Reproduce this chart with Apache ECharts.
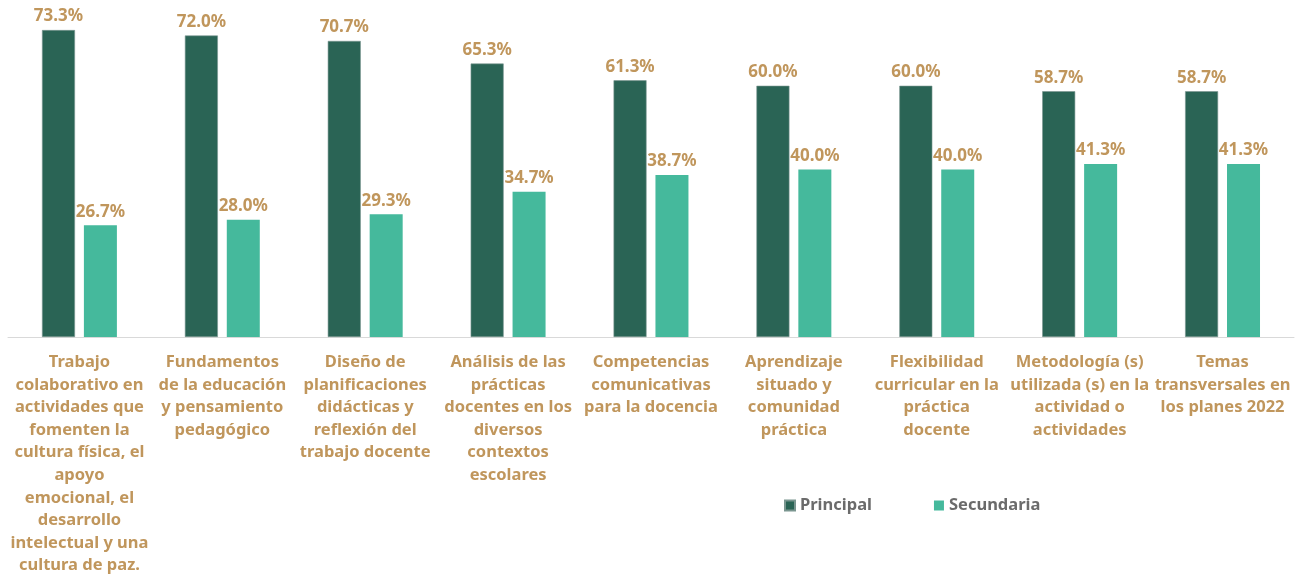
<!DOCTYPE html>
<html>
<head>
<meta charset="utf-8">
<script src="https://cdn.jsdelivr.net/npm/echarts@6/dist/echarts.min.js"></script>
<style>
  html, body { margin: 0; padding: 0; background: #fff; }
  #chart { width: 1304px; height: 577px; }
</style>
</head>
<body>
<div id="chart"></div>
<script>
// categorías con los saltos de línea tal como aparecen en la gráfica
const categories = [
  "Trabajo\ncolaborativo en\nactividades que\nfomenten la\ncultura física, el\napoyo\nemocional, el\ndesarrollo\nintelectual y una\ncultura de paz.",
  "Fundamentos\nde la educación\ny pensamiento\npedagógico",
  "Diseño de\nplanificaciones\ndidácticas y\nreflexión del\ntrabajo docente",
  "Análisis de las\nprácticas\ndocentes en los\ndiversos\ncontextos\nescolares",
  "Competencias\ncomunicativas\npara la docencia",
  "Aprendizaje\nsituado y\ncomunidad\npráctica",
  "Flexibilidad\ncurricular en la\npráctica\ndocente",
  "Metodología (s)\nutilizada (s) en la\nactividad o\nactividades",
  "Temas\ntransversales en\nlos planes 2022"
];
const principal = [73.3, 72.0, 70.7, 65.3, 61.3, 60.0, 60.0, 58.7, 58.7];
const secundaria = [26.7, 28.0, 29.3, 34.7, 38.7, 40.0, 40.0, 41.3, 41.3];

const FONT = "'Noto Sans', sans-serif";
const TAN = "#C0965C";

const chart = echarts.init(document.getElementById("chart"));

const valueLabel = {
  show: true,
  position: "top",
  distance: 5,
  color: TAN,
  fontFamily: FONT,
  fontWeight: "bold",
  fontSize: 17,
  formatter: p => p.value.toFixed(1) + "%"
};

chart.setOption({
  animation: false,
  grid: { left: 8, right: 10, top: 2, bottom: 238, containLabel: false },
  legend: {
    data: ["Principal", "Secundaria"],
    left: 779,
    top: 492,
    itemWidth: 10,
    itemHeight: 10,
    itemGap: 62,
    icon: "rect",
    textStyle: { color: "#6b6b6b", fontFamily: FONT, fontWeight: "bold", fontSize: 16.5 }
  },
  xAxis: {
    type: "category",
    data: categories,
    axisLine: { lineStyle: { color: "#d9d9d9", width: 1 } },
    axisTick: { show: false },
    axisLabel: {
      interval: 0,
      margin: 14,
      color: TAN,
      fontFamily: FONT,
      fontWeight: "bold",
      fontSize: 16.5,
      lineHeight: 22.6,
      align: "center"
    }
  },
  yAxis: {
    type: "value",
    min: 0,
    max: 80,
    show: false,
    splitLine: { show: false }
  },
  series: [
    {
      name: "Principal",
      type: "bar",
      data: principal,
      barWidth: 33,
      barGap: "27%",
      itemStyle: { color: "#2A6455", borderColor: "#7a9690", borderWidth: 0.6 },
      label: valueLabel
    },
    {
      name: "Secundaria",
      type: "bar",
      data: secundaria,
      barWidth: 33,
      itemStyle: { color: "#45B99C" },
      label: valueLabel
    }
  ]
});
</script>
</body>
</html>
